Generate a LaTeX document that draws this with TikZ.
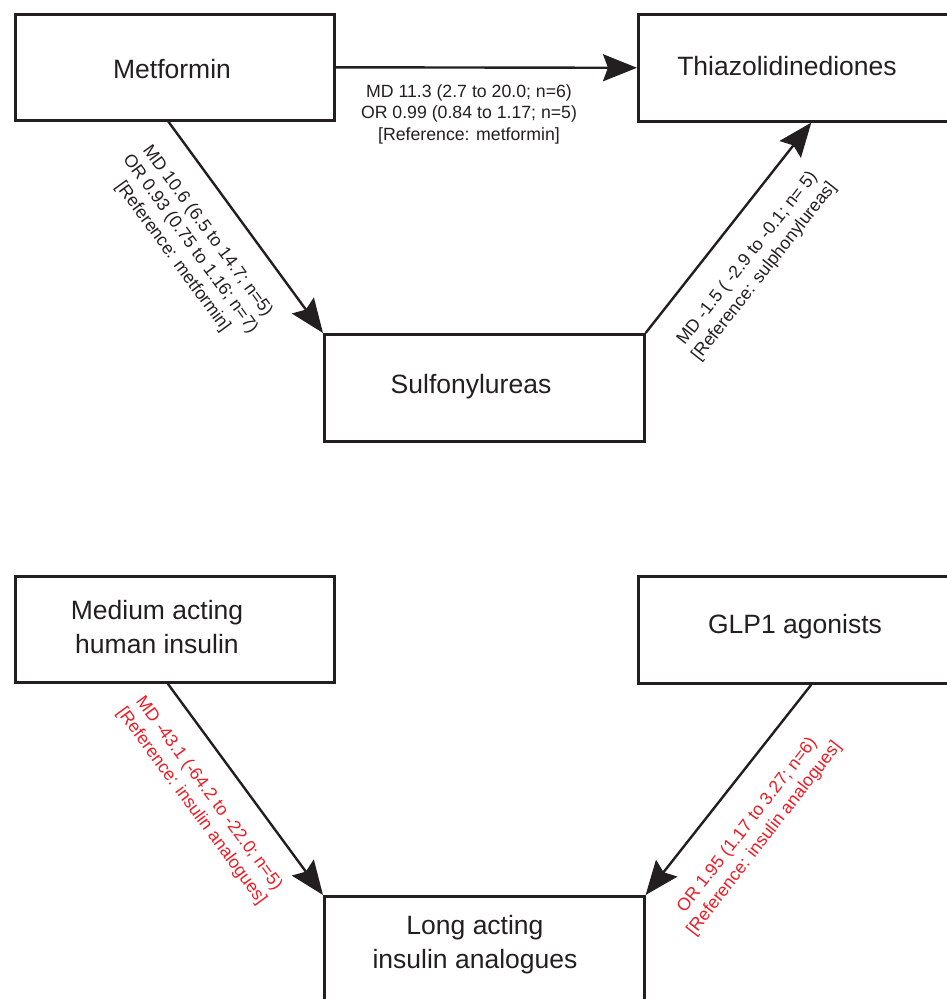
\documentclass[tikz,border=0pt]{standalone}
\usepackage{fontspec}
\setmainfont{Liberation Sans}
\usetikzlibrary{arrows.meta,calc}
\definecolor{ink}{RGB}{35,31,32}
\definecolor{redlab}{RGB}{237,28,36}
\begin{document}
\begin{tikzpicture}[x=1pt,y=-1pt,
  box/.style={draw=ink, line width=2.6pt, rectangle, anchor=north west, inner sep=0pt},
  boxtext/.style={font=\fontsize{26.5}{34}\selectfont, text=ink, align=center, inner sep=0pt},
  lab/.style={font=\fontsize{17.7}{21.5}\selectfont, text=ink, align=center, inner sep=0pt},
  redlabel/.style={lab, text=redlab},
  conn/.style={draw=ink, line width=2.4pt, -{Stealth[length=34pt, width=27pt, inset=5pt]}}
]
\useasboundingbox (0,0) rectangle (947,999);
\begin{scope}
\clip (0,0) rectangle (947,999);
% boxes
\node[box, minimum width=319pt, minimum height=106pt] (met) at (14,13) {};
\node[box, minimum width=346pt, minimum height=107pt] (thz) at (637,13) {};
\node[box, minimum width=320pt, minimum height=107pt] (sul) at (323,333) {};
\node[box, minimum width=319pt, minimum height=106pt] (med) at (14,575) {};
\node[box, minimum width=346pt, minimum height=107pt] (glp) at (637,575) {};
\node[box, minimum width=320pt, minimum height=107pt] (lng) at (323,895) {};
% box texts
\node[boxtext] (tmet) at (172,69) {Metformin};
\node[boxtext] (tthz) at (787,66) {Thiazolidinediones};
\node[boxtext] (tsul) at (471,387) {Sulfonylureas};
\node[boxtext] (tmed) at (157,627) {Medium acting\\human insulin};
\node[boxtext] (tglp) at (795,627) {GLP1 agonists};
\node[boxtext] (tlng) at (475,945) {Long acting\\insulin analogues};
% connectors
\coordinate (metb) at ($(met.south west)!0.48!(met.south east)$);
\coordinate (medb) at ($(med.south west)!0.478!(med.south east)$);
\draw[conn] (met.east) -- (thz.west);
\draw[conn] (metb) -- (sul.north west);
\draw[conn] (sul.north east) -- (thz.south);
\draw[conn] (medb) -- (lng.north west);
\draw[conn] (glp.south) -- (lng.north east);
% labels
\node[lab] (l1) at (469,114) {MD 11.3 (2.7 to 20.0; n=6)\\OR 0.99 (0.84 to 1.17; n=5)\\{}[Reference: metformin]};
\node[lab, rotate=-53.8] (l2) at (190,244) {MD 10.6 (6.5 to 14.7; n=5)\\OR 0.93 (0.75 to 1.16; n=7)\\{}[Reference: metformin]};
\node[lab, rotate=51.8] (l3) at (756,265) {MD -1.5 ( -2.9 to -0.1; n= 5)\\{}[Reference: sulphonylureas]};
\node[redlabel, rotate=-53.6] (l4) at (200,800) {MD -43.1 (-64.2 to -22.0; n=5)\\{}[Reference: insulin analogues]};
\node[redlabel, rotate=52.2] (l5) at (756,832) {OR 1.95 (1.17 to 3.27; n=6)\\{}[Reference: insulin analogues]};
\end{scope}
\end{tikzpicture}
\end{document}
